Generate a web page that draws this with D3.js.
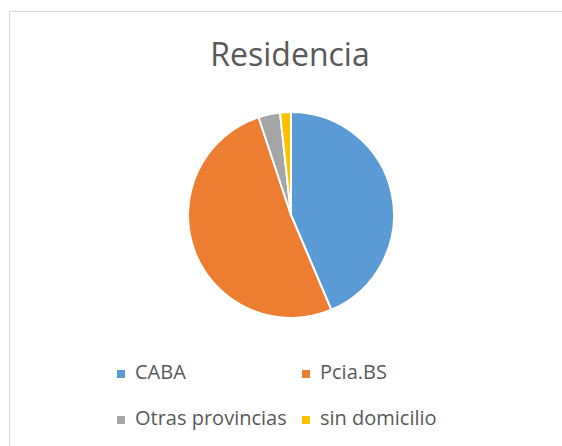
<!DOCTYPE html>
<html>
<head>
<meta charset="utf-8">
<script src="https://cdn.jsdelivr.net/npm/d3@7"></script>
<style>
  body { margin: 0; background: #fff; }
  svg { display: block; font-family: "Open Sans", sans-serif; }
</style>
</head>
<body>
<div id="chart"></div>
<script>
const categories = ["CABA", "Pcia.BS", "Otras provincias", "sin domicilio"];
const values = [43.6, 51.3, 3.4, 1.7];
const colors = ["#5B9BD5", "#ED7D31", "#A5A5A5", "#FFC000"];
const title = "Residencia";

const width = 562;
const height = 446;

const svg = d3.select("#chart").append("svg")
  .attr("width", width)
  .attr("height", height);

// chart frame
svg.append("rect")
  .attr("x", 9.5)
  .attr("y", 11.5)
  .attr("width", width + 20)
  .attr("height", height + 20)
  .attr("fill", "#fff")
  .attr("stroke", "#d9d9d9")
  .attr("stroke-width", 1);

svg.append("text")
  .attr("x", 290)
  .attr("y", 66)
  .attr("text-anchor", "middle")
  .attr("font-size", 32)
  .attr("fill", "#595959")
  .text(title);

const data = categories.map((c, i) => ({ name: c, value: values[i], color: colors[i] }));

const pie = d3.pie().sort(null).value(d => d.value);
const arc = d3.arc().innerRadius(0).outerRadius(103);

svg.append("g")
  .attr("transform", "translate(291,215)")
  .selectAll("path")
  .data(pie(data))
  .join("path")
  .attr("d", arc)
  .attr("fill", d => d.data.color)
  .attr("stroke", "#fff")
  .attr("stroke-width", 2)
  .attr("stroke-linejoin", "round");

// legend, two columns
const legendX = d3.scaleOrdinal().domain([0, 1]).range([117, 302]);
const legendY = d3.scaleOrdinal().domain([0, 1]).range([379, 425]);

const legend = svg.append("g")
  .selectAll("g")
  .data(data)
  .join("g")
  .attr("transform", (d, i) => `translate(${legendX(i % 2)},${legendY(Math.floor(i / 2))})`);

legend.append("rect")
  .attr("x", 0)
  .attr("y", -9)
  .attr("width", 8)
  .attr("height", 8)
  .attr("fill", d => d.color);

legend.append("text")
  .attr("x", 18)
  .attr("y", 0)
  .attr("font-size", 20)
  .attr("fill", "#595959")
  .text(d => d.name);
</script>
</body>
</html>
